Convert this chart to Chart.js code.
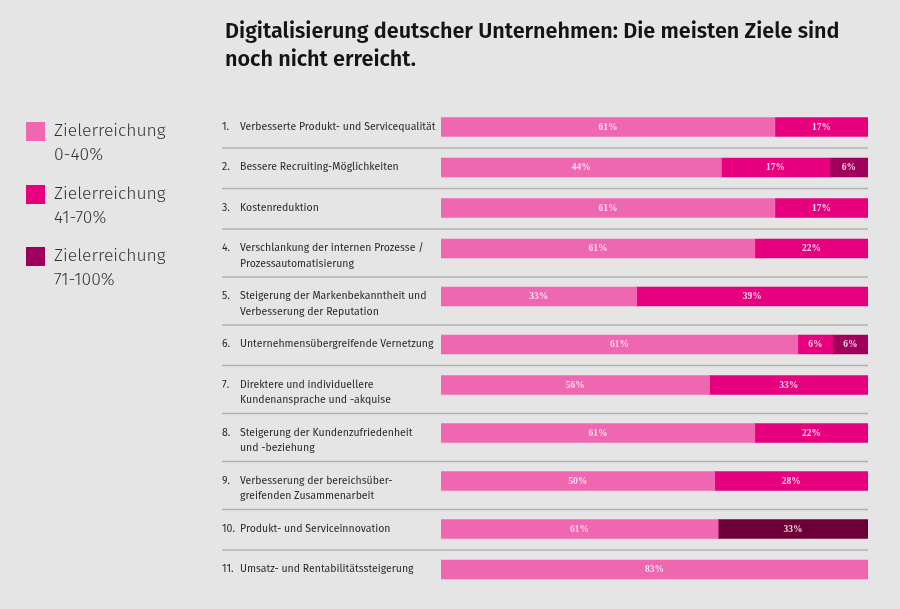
<!DOCTYPE html>
<html lang="de">
<head>
<meta charset="utf-8">
<title>Digitalisierung deutscher Unternehmen</title>
<script src="https://cdn.jsdelivr.net/npm/chart.js@4.4.1/dist/chart.umd.min.js"></script>
<style>
  html, body { margin: 0; padding: 0; background: #e5e5e5; }
  #wrap { position: relative; width: 900px; height: 609px; overflow: hidden; }
  #box { position: absolute; left: 0; top: 0; width: 900px; height: 609px; }
  h1 {
    position: absolute; left: 225px; top: 17px; margin: 0;
    font: 600 21.6px/28px "Fira Sans", "Open Sans", sans-serif;
    color: #141414; white-space: nowrap;
  }
  #legend { position: absolute; left: 26px; top: 122px; }
  .item { position: relative; height: 62.5px; }
  .sq { position: absolute; left: 0; top: 0; width: 19px; height: 19px; }
  .txt {
    position: absolute; left: 28px; top: -3px; white-space: nowrap;
    font: 300 17.5px/24px "Fira Sans", Lato, sans-serif; color: #333;
  }
</style>
</head>
<body>
<div id="wrap">
  <div id="box"><canvas id="chart"></canvas></div>
  <h1>Digitalisierung deutscher Unternehmen: Die meisten Ziele sind<br>noch nicht erreicht.</h1>
  <div id="legend"></div>
</div>
<script>
// die Ziele, eine Zeile pro Ziel (zweizeilige Texte als zwei Einträge)
const goals = [
  ['Verbesserte Produkt- und Servicequalität'],
  ['Bessere Recruiting-Möglichkeiten'],
  ['Kostenreduktion'],
  ['Verschlankung der internen Prozesse /', 'Prozessautomatisierung'],
  ['Steigerung der Markenbekanntheit und', 'Verbesserung der Reputation'],
  ['Unternehmensübergreifende Vernetzung'],
  ['Direktere und individuellere', 'Kundenansprache und -akquise'],
  ['Steigerung der Kundenzufriedenheit', 'und -beziehung'],
  ['Verbesserung der bereichsüber-', 'greifenden Zusammenarbeit'],
  ['Produkt- und Serviceinnovation'],
  ['Umsatz- und Rentabilitätssteigerung']
];
const seriesNames = ['Zielerreichung 0-40%', 'Zielerreichung 41-70%', 'Zielerreichung 71-100%'];
// Anteil der Unternehmen in Prozent
const low  = [61, 44, 61, 61, 33, 61, 56, 61, 50, 61, 83];
const mid  = [17, 17, 17, 22, 39,  6, 33, 22, 28,  0,  0];
const high = [ 0,  6,  0,  0,  0,  6,  0,  0,  0, 33,  0];
const values = [low, mid, high];

// opmaak
const ROW_ONE = 40.5, ROW_TWO = 48, BAR_MID = 19.5, LINE_H = 15.5;
const NUM_X = 222, TEXT_X = 240;
const colLow = '#f067b1', colMid = '#e6007e', colHigh = '#a0005c', colHighDark = '#6c0036';

// hoogte per rij hangt af van het aantal tekstregels
const rowTops = [];
let h = 0;
goals.forEach(g => { rowTops.push(h); h += g.length > 1 ? ROW_TWO : ROW_ONE; });
const totalH = h;
const rowMid = rowTops.map(t => t + BAR_MID);

// balken lopen altijd over de volle breedte (aandeel van het rijtotaal)
const totals = low.map((v, i) => v + mid[i] + high[i]);
function shares(arr) {
  return arr.map((v, i) => ({ x: v / totals[i] * 100, y: rowMid[i] }));
}

// rij-teksten, scheidingslijnen en waarden in de balken
const rowText = {
  id: 'rowText',
  beforeDatasetsDraw(chart) {
    const ctx = chart.ctx, y = chart.scales.y;
    ctx.save();
    ctx.strokeStyle = '#b3b3b3';
    ctx.lineWidth = 1.5;
    rowTops.slice(1).forEach(t => {
      const py = y.getPixelForValue(t);
      ctx.beginPath();
      ctx.moveTo(NUM_X, py);
      ctx.lineTo(chart.chartArea.right, py);
      ctx.stroke();
    });
    ctx.fillStyle = '#2b2b2b';
    ctx.font = '10.5px "Fira Sans", Lato, sans-serif';
    ctx.textBaseline = 'middle';
    goals.forEach((lines, i) => {
      const py = y.getPixelForValue(rowMid[i]);
      ctx.fillText((i + 1) + '.', NUM_X, py);
      lines.forEach((l, k) => ctx.fillText(l, TEXT_X, py + k * LINE_H));
    });
    ctx.restore();
  },
  afterDatasetsDraw(chart) {
    const ctx = chart.ctx;
    ctx.save();
    ctx.fillStyle = 'rgba(255, 236, 246, 0.9)';
    ctx.font = 'bold 9.5px "Liberation Serif", serif';
    ctx.textAlign = 'center';
    ctx.textBaseline = 'middle';
    chart.data.datasets.forEach((ds, d) => {
      chart.getDatasetMeta(d).data.forEach((bar, i) => {
        const v = values[d][i];
        if (!v) return;
        ctx.fillText(v + '%', (bar.x + bar.base) / 2, bar.y + 0.5);
      });
    });
    ctx.restore();
  }
};

const chart = new Chart(document.getElementById('chart'), {
  type: 'bar',
  data: {
    datasets: [
      { label: seriesNames[0], data: shares(low), backgroundColor: colLow },
      { label: seriesNames[1], data: shares(mid), backgroundColor: colMid },
      { label: seriesNames[2], data: shares(high),
        backgroundColor: high.map((v, i) => i === 9 ? colHighDark : colHigh) }
    ]
  },
  options: {
    indexAxis: 'y',
    responsive: true,
    maintainAspectRatio: false,
    animation: false,
    layout: { padding: { left: 441, right: 32, top: 107.5, bottom: 609 - 107.5 - totalH } },
    datasets: { bar: { barThickness: 19, borderWidth: 0 } },
    scales: {
      x: { type: 'linear', stacked: true, min: 0, max: 100, display: false },
      y: { type: 'linear', stacked: true, reverse: true, offset: false, min: 0, max: totalH, display: false }
    },
    plugins: {
      legend: { display: false },
      tooltip: {
        callbacks: {
          title: items => goals[items[0].dataIndex].join(' '),
          label: item => item.dataset.label + ': ' + values[item.datasetIndex][item.dataIndex] + '%'
        }
      }
    }
  },
  plugins: [rowText]
});

// legende links, uit de datasets opgebouwd (naam en bereik op twee regels)
const legend = document.getElementById('legend');
chart.data.datasets.forEach(ds => {
  const col = Array.isArray(ds.backgroundColor) ? ds.backgroundColor[0] : ds.backgroundColor;
  const text = ds.label.replace(' ', '<br>');
  legend.insertAdjacentHTML('beforeend',
    `<div class="item"><span class="sq" style="background:${col}"></span><span class="txt">${text}</span></div>`);
});
</script>
</body>
</html>
